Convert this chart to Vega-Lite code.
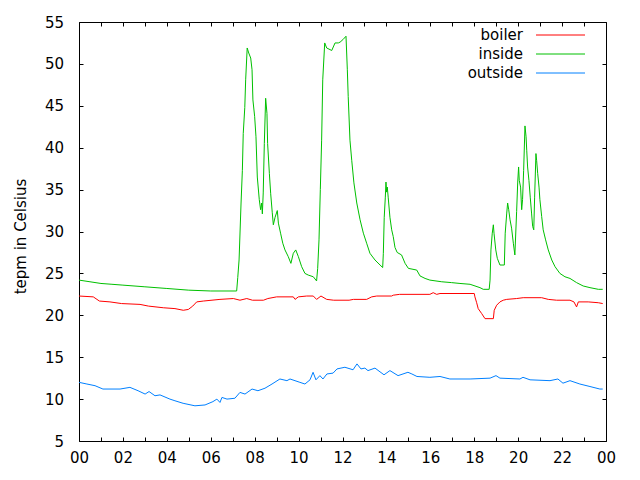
{
  "$schema": "https://vega.github.io/schema/vega-lite/v6.json",
  "width": 527,
  "height": 419,
  "autosize": {"type": "none"},
  "padding": {"left": 79, "top": 22, "right": 34, "bottom": 39},
  "background": "#ffffff",
  "config": {
    "font": "DejaVu Sans",
    "view": {"stroke": "#000000", "strokeWidth": 1},
    "axis": {
      "domain": false, "grid": false, "tickColor": "#000000", "tickSize": -4, "tickWidth": 1,
      "labelFont": "DejaVu Sans", "labelFontSize": 15, "labelColor": "#000000",
      "titleFont": "DejaVu Sans", "titleFontSize": 15, "titleFontWeight": "normal", "titleColor": "#000000",
      "labelFlush": false, "labelOverlap": false
    },
    "legend": {
      "orient": "none", "legendX": 457, "legendY": 5.5, "padding": 0,
      "labelAlign": "right", "labelOffset": -28, "labelFont": "DejaVu Sans", "labelFontSize": 15, "labelColor": "#000000",
      "symbolType": "M-1.5,0H8.3", "symbolSize": 100, "symbolStrokeWidth": 1, "rowPadding": 3
    }
  },
  "datasets": {
    "temps": [
      {"h": 0, "v": 22.3, "s": "boiler"}, {"h": 0.65, "v": 22.2, "s": "boiler"}, {"h": 0.93, "v": 21.7, "s": "boiler"}, {"h": 1.41, "v": 21.6, "s": "boiler"}, {"h": 1.94, "v": 21.4, "s": "boiler"}, {"h": 2.78, "v": 21.3, "s": "boiler"}, {"h": 3.16, "v": 21.1, "s": "boiler"}, {"h": 3.84, "v": 20.9, "s": "boiler"}, {"h": 4.37, "v": 20.8, "s": "boiler"}, {"h": 4.75, "v": 20.6, "s": "boiler"}, {"h": 4.98, "v": 20.7, "s": "boiler"}, {"h": 5.18, "v": 21.1, "s": "boiler"}, {"h": 5.36, "v": 21.6, "s": "boiler"}, {"h": 5.66, "v": 21.7, "s": "boiler"}, {"h": 6.42, "v": 21.9, "s": "boiler"}, {"h": 7.03, "v": 22.0, "s": "boiler"}, {"h": 7.33, "v": 21.8, "s": "boiler"}, {"h": 7.64, "v": 22.0, "s": "boiler"}, {"h": 7.9, "v": 21.8, "s": "boiler"}, {"h": 8.4, "v": 21.8, "s": "boiler"}, {"h": 8.6, "v": 22.0, "s": "boiler"}, {"h": 9.0, "v": 22.2, "s": "boiler"}, {"h": 9.76, "v": 22.2, "s": "boiler"}, {"h": 9.84, "v": 21.9, "s": "boiler"}, {"h": 9.99, "v": 22.2, "s": "boiler"}, {"h": 10.37, "v": 22.3, "s": "boiler"}, {"h": 10.67, "v": 22.3, "s": "boiler"}, {"h": 10.82, "v": 21.9, "s": "boiler"}, {"h": 11.02, "v": 22.3, "s": "boiler"}, {"h": 11.28, "v": 21.9, "s": "boiler"}, {"h": 11.6, "v": 21.8, "s": "boiler"}, {"h": 12.3, "v": 21.8, "s": "boiler"}, {"h": 12.5, "v": 21.9, "s": "boiler"}, {"h": 13.1, "v": 21.9, "s": "boiler"}, {"h": 13.33, "v": 22.2, "s": "boiler"}, {"h": 13.56, "v": 22.3, "s": "boiler"}, {"h": 14.24, "v": 22.3, "s": "boiler"}, {"h": 14.31, "v": 22.4, "s": "boiler"}, {"h": 14.6, "v": 22.5, "s": "boiler"}, {"h": 15.98, "v": 22.5, "s": "boiler"}, {"h": 16.13, "v": 22.7, "s": "boiler"}, {"h": 16.29, "v": 22.5, "s": "boiler"}, {"h": 16.44, "v": 22.6, "s": "boiler"}, {"h": 18.0, "v": 22.6, "s": "boiler"}, {"h": 18.03, "v": 22.2, "s": "boiler"}, {"h": 18.11, "v": 21.5, "s": "boiler"}, {"h": 18.18, "v": 20.8, "s": "boiler"}, {"h": 18.34, "v": 20.2, "s": "boiler"}, {"h": 18.49, "v": 19.6, "s": "boiler"}, {"h": 18.87, "v": 19.6, "s": "boiler"}, {"h": 18.91, "v": 20.6, "s": "boiler"}, {"h": 19.02, "v": 21.2, "s": "boiler"}, {"h": 19.17, "v": 21.6, "s": "boiler"}, {"h": 19.32, "v": 21.8, "s": "boiler"}, {"h": 19.48, "v": 21.9, "s": "boiler"}, {"h": 19.93, "v": 22.0, "s": "boiler"}, {"h": 20.23, "v": 22.1, "s": "boiler"}, {"h": 21.07, "v": 22.1, "s": "boiler"}, {"h": 21.37, "v": 21.9, "s": "boiler"}, {"h": 21.75, "v": 21.8, "s": "boiler"}, {"h": 22.36, "v": 21.8, "s": "boiler"}, {"h": 22.54, "v": 21.6, "s": "boiler"}, {"h": 22.66, "v": 21.0, "s": "boiler"}, {"h": 22.74, "v": 21.6, "s": "boiler"}, {"h": 23.19, "v": 21.6, "s": "boiler"}, {"h": 23.65, "v": 21.5, "s": "boiler"}, {"h": 23.85, "v": 21.4, "s": "boiler"},

      {"h": 0, "v": 24.2, "s": "inside"}, {"h": 0.5, "v": 24.0, "s": "inside"}, {"h": 1, "v": 23.8, "s": "inside"}, {"h": 1.5, "v": 23.7, "s": "inside"}, {"h": 2, "v": 23.6, "s": "inside"}, {"h": 3, "v": 23.4, "s": "inside"}, {"h": 4, "v": 23.2, "s": "inside"}, {"h": 5, "v": 23.0, "s": "inside"}, {"h": 6, "v": 22.9, "s": "inside"}, {"h": 7.18, "v": 22.9, "s": "inside"}, {"h": 7.23, "v": 24.5, "s": "inside"}, {"h": 7.29, "v": 26.6, "s": "inside"}, {"h": 7.38, "v": 33.4, "s": "inside"}, {"h": 7.44, "v": 37.3, "s": "inside"}, {"h": 7.48, "v": 41.7, "s": "inside"}, {"h": 7.55, "v": 44.8, "s": "inside"}, {"h": 7.59, "v": 48.1, "s": "inside"}, {"h": 7.66, "v": 51.9, "s": "inside"}, {"h": 7.73, "v": 51.3, "s": "inside"}, {"h": 7.82, "v": 50.7, "s": "inside"}, {"h": 7.88, "v": 49.3, "s": "inside"}, {"h": 7.92, "v": 45.7, "s": "inside"}, {"h": 8.0, "v": 43.7, "s": "inside"}, {"h": 8.06, "v": 41.3, "s": "inside"}, {"h": 8.12, "v": 36.5, "s": "inside"}, {"h": 8.21, "v": 33.8, "s": "inside"}, {"h": 8.27, "v": 32.6, "s": "inside"}, {"h": 8.32, "v": 33.4, "s": "inside"}, {"h": 8.35, "v": 32.1, "s": "inside"}, {"h": 8.39, "v": 34.6, "s": "inside"}, {"h": 8.44, "v": 40.5, "s": "inside"}, {"h": 8.5, "v": 45.9, "s": "inside"}, {"h": 8.56, "v": 44.1, "s": "inside"}, {"h": 8.59, "v": 40.5, "s": "inside"}, {"h": 8.67, "v": 36.9, "s": "inside"}, {"h": 8.73, "v": 34.5, "s": "inside"}, {"h": 8.8, "v": 32.3, "s": "inside"}, {"h": 8.85, "v": 30.8, "s": "inside"}, {"h": 8.93, "v": 31.7, "s": "inside"}, {"h": 9.03, "v": 32.5, "s": "inside"}, {"h": 9.08, "v": 31.0, "s": "inside"}, {"h": 9.18, "v": 29.8, "s": "inside"}, {"h": 9.28, "v": 28.6, "s": "inside"}, {"h": 9.38, "v": 27.8, "s": "inside"}, {"h": 9.53, "v": 27.0, "s": "inside"}, {"h": 9.65, "v": 26.2, "s": "inside"}, {"h": 9.76, "v": 27.4, "s": "inside"}, {"h": 9.87, "v": 27.8, "s": "inside"}, {"h": 9.99, "v": 27.0, "s": "inside"}, {"h": 10.14, "v": 25.8, "s": "inside"}, {"h": 10.29, "v": 25.0, "s": "inside"}, {"h": 10.44, "v": 24.8, "s": "inside"}, {"h": 10.67, "v": 24.6, "s": "inside"}, {"h": 10.82, "v": 24.1, "s": "inside"}, {"h": 10.87, "v": 25.6, "s": "inside"}, {"h": 10.93, "v": 29.0, "s": "inside"}, {"h": 10.99, "v": 35.0, "s": "inside"}, {"h": 11.05, "v": 40.9, "s": "inside"}, {"h": 11.1, "v": 48.1, "s": "inside"}, {"h": 11.19, "v": 52.5, "s": "inside"}, {"h": 11.28, "v": 51.9, "s": "inside"}, {"h": 11.51, "v": 51.6, "s": "inside"}, {"h": 11.66, "v": 52.5, "s": "inside"}, {"h": 11.81, "v": 52.5, "s": "inside"}, {"h": 11.89, "v": 52.6, "s": "inside"}, {"h": 12.02, "v": 52.9, "s": "inside"}, {"h": 12.16, "v": 53.3, "s": "inside"}, {"h": 12.22, "v": 49.3, "s": "inside"}, {"h": 12.26, "v": 46.1, "s": "inside"}, {"h": 12.34, "v": 40.9, "s": "inside"}, {"h": 12.42, "v": 38.5, "s": "inside"}, {"h": 12.52, "v": 35.8, "s": "inside"}, {"h": 12.65, "v": 33.4, "s": "inside"}, {"h": 12.8, "v": 31.4, "s": "inside"}, {"h": 12.95, "v": 29.8, "s": "inside"}, {"h": 13.1, "v": 28.6, "s": "inside"}, {"h": 13.25, "v": 27.4, "s": "inside"}, {"h": 13.48, "v": 26.6, "s": "inside"}, {"h": 13.71, "v": 26.0, "s": "inside"}, {"h": 13.83, "v": 25.7, "s": "inside"}, {"h": 13.86, "v": 27.4, "s": "inside"}, {"h": 13.9, "v": 31.7, "s": "inside"}, {"h": 13.95, "v": 34.1, "s": "inside"}, {"h": 13.98, "v": 35.9, "s": "inside"}, {"h": 14.01, "v": 34.7, "s": "inside"}, {"h": 14.04, "v": 35.3, "s": "inside"}, {"h": 14.08, "v": 34.1, "s": "inside"}, {"h": 14.16, "v": 31.7, "s": "inside"}, {"h": 14.24, "v": 30.2, "s": "inside"}, {"h": 14.31, "v": 29.4, "s": "inside"}, {"h": 14.39, "v": 28.1, "s": "inside"}, {"h": 14.49, "v": 27.5, "s": "inside"}, {"h": 14.69, "v": 27.2, "s": "inside"}, {"h": 14.85, "v": 26.2, "s": "inside"}, {"h": 15.0, "v": 25.6, "s": "inside"}, {"h": 15.38, "v": 25.4, "s": "inside"}, {"h": 15.53, "v": 24.7, "s": "inside"}, {"h": 15.76, "v": 24.4, "s": "inside"}, {"h": 15.98, "v": 24.2, "s": "inside"}, {"h": 16.52, "v": 24.0, "s": "inside"}, {"h": 16.97, "v": 23.9, "s": "inside"}, {"h": 17.35, "v": 23.8, "s": "inside"}, {"h": 17.81, "v": 23.7, "s": "inside"}, {"h": 18.26, "v": 23.3, "s": "inside"}, {"h": 18.41, "v": 23.1, "s": "inside"}, {"h": 18.68, "v": 23.1, "s": "inside"}, {"h": 18.72, "v": 24.2, "s": "inside"}, {"h": 18.76, "v": 27.8, "s": "inside"}, {"h": 18.82, "v": 29.8, "s": "inside"}, {"h": 18.87, "v": 30.8, "s": "inside"}, {"h": 18.9, "v": 29.8, "s": "inside"}, {"h": 18.98, "v": 27.8, "s": "inside"}, {"h": 19.05, "v": 26.8, "s": "inside"}, {"h": 19.17, "v": 26.0, "s": "inside"}, {"h": 19.37, "v": 26.0, "s": "inside"}, {"h": 19.41, "v": 29.8, "s": "inside"}, {"h": 19.48, "v": 32.2, "s": "inside"}, {"h": 19.52, "v": 33.4, "s": "inside"}, {"h": 19.57, "v": 32.6, "s": "inside"}, {"h": 19.63, "v": 31.4, "s": "inside"}, {"h": 19.7, "v": 30.4, "s": "inside"}, {"h": 19.78, "v": 28.6, "s": "inside"}, {"h": 19.85, "v": 27.2, "s": "inside"}, {"h": 19.93, "v": 32.4, "s": "inside"}, {"h": 19.98, "v": 35.9, "s": "inside"}, {"h": 20.02, "v": 37.7, "s": "inside"}, {"h": 20.05, "v": 36.1, "s": "inside"}, {"h": 20.11, "v": 35.3, "s": "inside"}, {"h": 20.16, "v": 32.6, "s": "inside"}, {"h": 20.2, "v": 33.8, "s": "inside"}, {"h": 20.25, "v": 37.3, "s": "inside"}, {"h": 20.31, "v": 42.6, "s": "inside"}, {"h": 20.36, "v": 41.3, "s": "inside"}, {"h": 20.39, "v": 39.7, "s": "inside"}, {"h": 20.43, "v": 37.7, "s": "inside"}, {"h": 20.49, "v": 36.1, "s": "inside"}, {"h": 20.55, "v": 34.1, "s": "inside"}, {"h": 20.61, "v": 32.2, "s": "inside"}, {"h": 20.66, "v": 30.6, "s": "inside"}, {"h": 20.71, "v": 30.2, "s": "inside"}, {"h": 20.75, "v": 34.1, "s": "inside"}, {"h": 20.81, "v": 39.3, "s": "inside"}, {"h": 20.84, "v": 38.5, "s": "inside"}, {"h": 20.89, "v": 36.9, "s": "inside"}, {"h": 20.95, "v": 35.3, "s": "inside"}, {"h": 20.99, "v": 33.8, "s": "inside"}, {"h": 21.07, "v": 31.8, "s": "inside"}, {"h": 21.14, "v": 30.2, "s": "inside"}, {"h": 21.25, "v": 29.0, "s": "inside"}, {"h": 21.37, "v": 27.8, "s": "inside"}, {"h": 21.53, "v": 26.6, "s": "inside"}, {"h": 21.68, "v": 25.8, "s": "inside"}, {"h": 21.9, "v": 25.0, "s": "inside"}, {"h": 22.13, "v": 24.6, "s": "inside"}, {"h": 22.36, "v": 24.4, "s": "inside"}, {"h": 22.66, "v": 23.9, "s": "inside"}, {"h": 22.96, "v": 23.5, "s": "inside"}, {"h": 23.27, "v": 23.3, "s": "inside"}, {"h": 23.65, "v": 23.1, "s": "inside"}, {"h": 23.85, "v": 23.1, "s": "inside"},

      {"h": 0, "v": 12.0, "s": "outside"}, {"h": 0.36, "v": 11.8, "s": "outside"}, {"h": 0.73, "v": 11.6, "s": "outside"}, {"h": 1.09, "v": 11.2, "s": "outside"}, {"h": 1.87, "v": 11.2, "s": "outside"}, {"h": 2.32, "v": 11.4, "s": "outside"}, {"h": 2.69, "v": 11.0, "s": "outside"}, {"h": 3.01, "v": 10.6, "s": "outside"}, {"h": 3.19, "v": 10.9, "s": "outside"}, {"h": 3.46, "v": 10.4, "s": "outside"}, {"h": 3.69, "v": 10.5, "s": "outside"}, {"h": 4.14, "v": 10.0, "s": "outside"}, {"h": 4.37, "v": 9.8, "s": "outside"}, {"h": 4.74, "v": 9.5, "s": "outside"}, {"h": 5.28, "v": 9.2, "s": "outside"}, {"h": 5.74, "v": 9.3, "s": "outside"}, {"h": 6.1, "v": 9.7, "s": "outside"}, {"h": 6.28, "v": 10.0, "s": "outside"}, {"h": 6.42, "v": 9.6, "s": "outside"}, {"h": 6.51, "v": 10.2, "s": "outside"}, {"h": 6.74, "v": 10.0, "s": "outside"}, {"h": 7.1, "v": 10.1, "s": "outside"}, {"h": 7.33, "v": 10.8, "s": "outside"}, {"h": 7.56, "v": 10.6, "s": "outside"}, {"h": 7.88, "v": 11.2, "s": "outside"}, {"h": 8.15, "v": 11.0, "s": "outside"}, {"h": 8.47, "v": 11.3, "s": "outside"}, {"h": 8.79, "v": 11.8, "s": "outside"}, {"h": 9.15, "v": 12.4, "s": "outside"}, {"h": 9.47, "v": 12.2, "s": "outside"}, {"h": 9.61, "v": 12.4, "s": "outside"}, {"h": 10.06, "v": 12.0, "s": "outside"}, {"h": 10.29, "v": 11.8, "s": "outside"}, {"h": 10.52, "v": 12.3, "s": "outside"}, {"h": 10.66, "v": 13.2, "s": "outside"}, {"h": 10.79, "v": 12.3, "s": "outside"}, {"h": 10.97, "v": 12.8, "s": "outside"}, {"h": 11.11, "v": 12.4, "s": "outside"}, {"h": 11.29, "v": 13.0, "s": "outside"}, {"h": 11.57, "v": 13.1, "s": "outside"}, {"h": 11.75, "v": 13.6, "s": "outside"}, {"h": 12.11, "v": 13.8, "s": "outside"}, {"h": 12.48, "v": 13.5, "s": "outside"}, {"h": 12.66, "v": 14.2, "s": "outside"}, {"h": 12.84, "v": 13.6, "s": "outside"}, {"h": 13.02, "v": 13.7, "s": "outside"}, {"h": 13.16, "v": 13.4, "s": "outside"}, {"h": 13.48, "v": 13.7, "s": "outside"}, {"h": 13.89, "v": 12.9, "s": "outside"}, {"h": 14.16, "v": 13.4, "s": "outside"}, {"h": 14.53, "v": 12.8, "s": "outside"}, {"h": 14.98, "v": 13.2, "s": "outside"}, {"h": 15.16, "v": 13.0, "s": "outside"}, {"h": 15.39, "v": 12.7, "s": "outside"}, {"h": 15.98, "v": 12.6, "s": "outside"}, {"h": 16.44, "v": 12.7, "s": "outside"}, {"h": 16.89, "v": 12.4, "s": "outside"}, {"h": 17.81, "v": 12.4, "s": "outside"}, {"h": 18.72, "v": 12.5, "s": "outside"}, {"h": 18.99, "v": 12.8, "s": "outside"}, {"h": 19.17, "v": 12.5, "s": "outside"}, {"h": 20.08, "v": 12.4, "s": "outside"}, {"h": 20.22, "v": 12.6, "s": "outside"}, {"h": 20.54, "v": 12.3, "s": "outside"}, {"h": 21.45, "v": 12.2, "s": "outside"}, {"h": 21.81, "v": 12.4, "s": "outside"}, {"h": 22.04, "v": 11.9, "s": "outside"}, {"h": 22.36, "v": 12.2, "s": "outside"}, {"h": 22.81, "v": 11.8, "s": "outside"}, {"h": 23.27, "v": 11.5, "s": "outside"}, {"h": 23.72, "v": 11.2, "s": "outside"}, {"h": 23.85, "v": 11.2, "s": "outside"}
    ]
  },
  "data": {"name": "temps"},
  "layer": [
    {
      "mark": {"type": "line", "strokeWidth": 1, "interpolate": "linear"},
      "encoding": {
        "x": {
          "field": "h", "type": "quantitative",
          "scale": {"domain": [0, 24], "nice": false, "zero": false},
          "axis": {
            "orient": "bottom", "title": null, "labelPadding": 13.5, "labelBaseline": "top",
            "values": [0,1,2,3,4,5,6,7,8,9,10,11,12,13,14,15,16,17,18,19,20,21,22,23,24],
            "labelExpr": "datum.value % 2 == 1 ? '' : ((datum.value % 24) < 10 ? '0' : '') + (datum.value % 24)"
          }
        },
        "y": {
          "field": "v", "type": "quantitative",
          "scale": {"domain": [5, 55], "nice": false, "zero": false},
          "axis": {
            "orient": "left", "title": "tepm in Celsius", "labelPadding": 19.5, "titlePadding": 16, "titleY": 214,
            "values": [5,10,15,20,25,30,35,40,45,50,55]
          }
        },
        "color": {
          "field": "s", "type": "nominal", "title": null,
          "scale": {"domain": ["boiler", "inside", "outside"], "range": ["#ff0000", "#00c000", "#0080ff"]}
        }
      }
    },
    {
      "mark": {"type": "line", "opacity": 0},
      "encoding": {
        "x": {
          "field": "h", "type": "quantitative",
          "axis": {"orient": "top", "title": null, "labels": false,
            "values": [0,1,2,3,4,5,6,7,8,9,10,11,12,13,14,15,16,17,18,19,20,21,22,23,24]}
        },
        "y": {
          "field": "v", "type": "quantitative",
          "axis": {"orient": "right", "title": null, "labels": false,
            "values": [5,10,15,20,25,30,35,40,45,50,55]}
        },
        "detail": {"field": "s", "type": "nominal"}
      }
    }
  ],
  "resolve": {"scale": {"x": "shared", "y": "shared"}, "axis": {"x": "independent", "y": "independent"}}
}
